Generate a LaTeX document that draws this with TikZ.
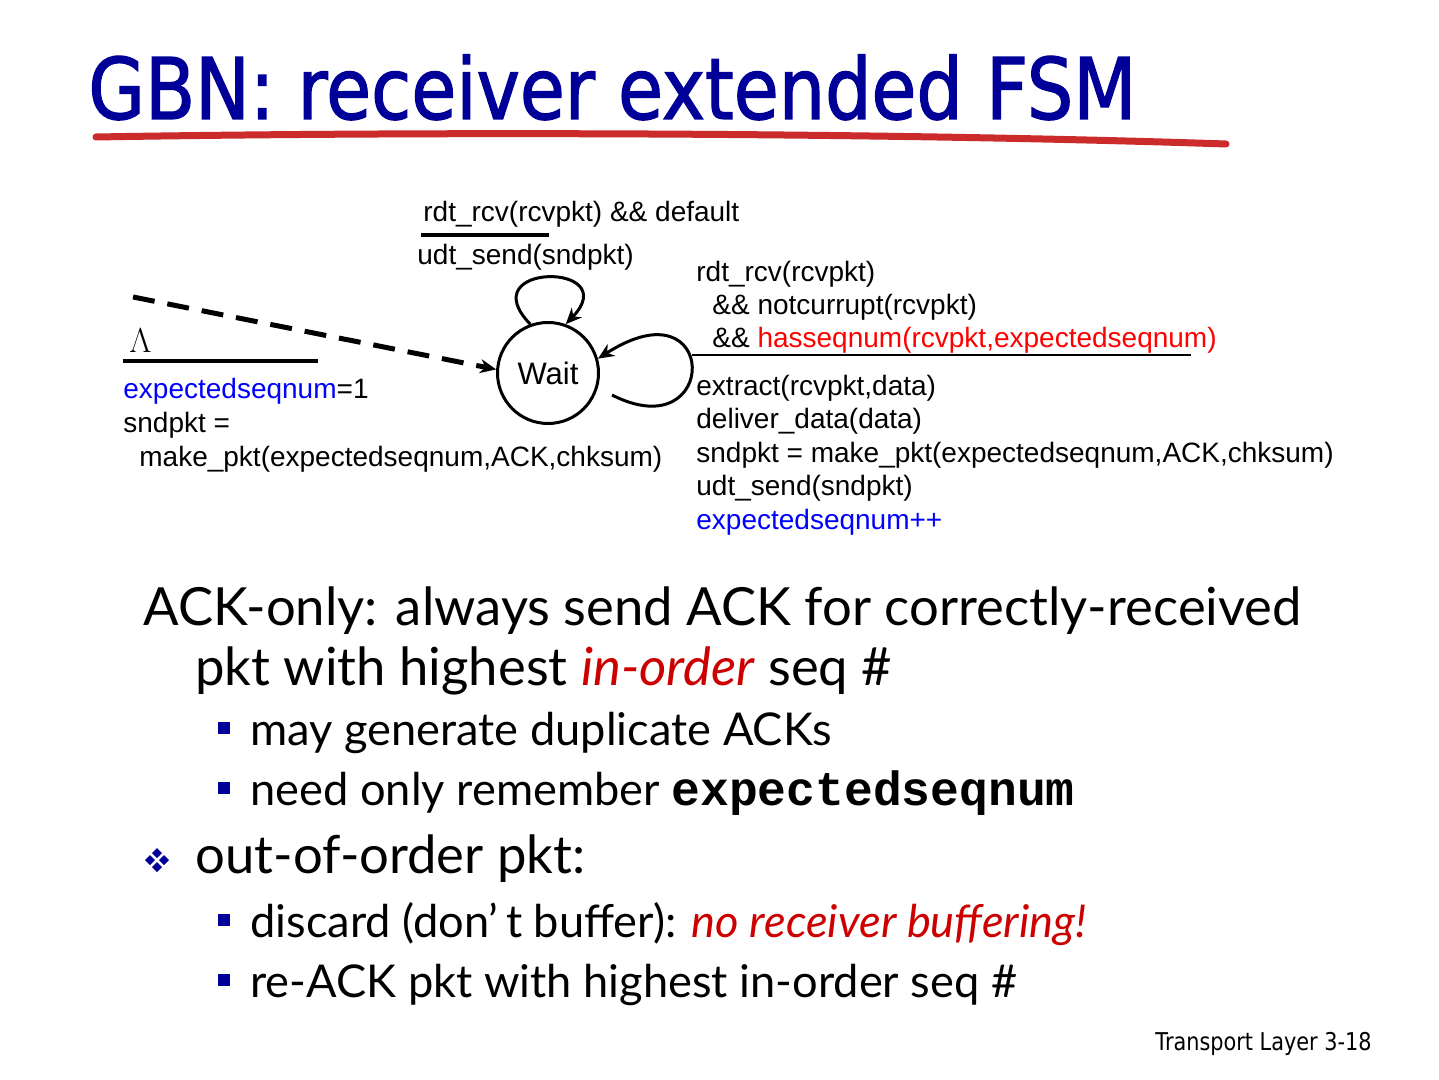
\documentclass[tikz,border=0pt]{standalone}
\usepackage{fontspec}
\setmainfont{Lato}
\newfontfamily\diagfont{Liberation Sans}
\newfontfamily\titlefont[FakeStretch=0.86, FakeBold=1.5]{DejaVu Sans}
\newfontfamily\footfont[FakeStretch=0.85]{DejaVu Sans}
\newfontfamily\codefont{Liberation Mono}
\definecolor{TitleBlue}{HTML}{000099}
\definecolor{BrushRed}{HTML}{CC2B2B}
\definecolor{VarBlue}{HTML}{0000FF}
\definecolor{CondRed}{HTML}{FF0000}
\definecolor{EmphRed}{HTML}{CC0000}
\usetikzlibrary{arrows.meta, positioning}

\begin{document}
\begin{tikzpicture}[x=0.5pt, y=-0.5pt,
    fsm/.style={font=\diagfont\fontsize{14}{16.75}\selectfont, anchor=base west, inner sep=0pt},
    body/.style={font=\fontsize{26.3}{31}\selectfont, anchor=base west, inner sep=0pt},
    subbody/.style={font=\fontsize{22.6}{27}\selectfont, anchor=base west, inner sep=0pt},
    guard/.style={line width=2pt},
    trans/.style={-{Stealth[length=8pt, width=7pt]}, line width=1.5pt},
    bullet/.style={fill=TitleBlue}]
  \fill[white] (0,0) rectangle (1439,1080);
  \useasboundingbox (0,0) rectangle (1439,1080);

  \node[anchor=base west, inner sep=0pt, font=\titlefont\fontsize{42.5}{50}\selectfont, text=TitleBlue] (title) at (88,119) {GBN: receiver extended FSM};
  \draw[BrushRed, line width=3.5pt, line cap=round] (96,137) .. controls (450,131) and (900,133) .. (1226,144);

  \node[draw, circle, line width=1.5pt, minimum size=50.5pt, inner sep=0pt, font=\diagfont\fontsize{15.5}{18}\selectfont] (wait) at (548,373) {Wait};

  \node[fsm] (dflt) at (423,222) {rdt\_rcv(rcvpkt) \&\& default};
  \node[fsm] (dfltact) at (417,265) {udt\_send(sndpkt)};
  \draw[guard] (421,235) -- (549,235);
  \draw[trans] (wait.110) .. controls (470,262) and (625,262) .. (wait.70);

  \coordinate (initstart) at (133,297);
  \draw[trans, line width=2.5pt, dash pattern=on 11pt off 6.5pt] (initstart) -- (wait.176);
  \node[anchor=base west, inner sep=0pt, font=\fontsize{17}{19}\selectfont] (lambda) at (129,353) {$\Lambda$};
  \draw[guard] (123,361) -- (318,361);
  \node[fsm] (init1) at (123,398) {\textcolor{VarBlue}{expectedseqnum}=1};
  \node[fsm] (init2) at (123,432) {sndpkt =};
  \node[fsm] (init3) at (139,466) {make\_pkt(expectedseqnum,ACK,chksum)};

  \coordinate (loopstart) at (612,395);
  \draw[trans] (loopstart) .. controls (720,450) and (720,280) .. (wait.16);
  \node[fsm] (cond1) at (696,282) {rdt\_rcv(rcvpkt)};
  \node[fsm] (cond2) at (712,315) {\&\& notcurrupt(rcvpkt)};
  \node[fsm] (cond3) at (712,348) {\&\& \textcolor{CondRed}{hasseqnum(rcvpkt,expectedseqnum)}};
  \draw[line width=1.2pt] (692,355) -- (1191,355);
  \foreach \txt [count=\k] in {{extract(rcvpkt,data)}, {deliver\_data(data)}, {sndpkt = make\_pkt(expectedseqnum,ACK,chksum)}, {udt\_send(sndpkt)}, {\textcolor{VarBlue}{expectedseqnum++}}}
    \node[fsm] (act\k) at (696,361.5+33.5*\k) {\txt};

  \node[body] (ackonly) at (143,625) {ACK-only: always send ACK for correctly-received};
  \node[body] (ackonly2) at (195,685) {pkt with highest \textcolor{EmphRed}{\itshape in-order} seq \#};
  \node[subbody] (dup) at (250,745) {may generate duplicate ACKs};
  \node[subbody] (remember) at (250,805) {need only remember {\codefont\bfseries\fontsize{24}{29}\selectfont expectedseqnum}};
  \node[body] (ooo) at (195,873) {out-of-order pkt:};
  \node[subbody] (discard) at (250,937) {discard (don’\,t buffer): \textcolor{EmphRed}{\itshape no receiver buffering!}};
  \node[subbody] (reack) at (250,997) {re-ACK pkt with highest in-order seq \#};
  \foreach \y in {745,805,937,997}
    \fill[bullet] (218,\y-23) rectangle ++(12,12);
  \foreach \dx/\dy in {0/-7,0/7,-7/0,7/0}
    \fill[bullet] (157+\dx,860+\dy) +(-5,0) -- +(0,-5) -- +(5,0) -- +(0,5) -- cycle;

  \node[anchor=base east, inner sep=0pt, font=\footfont\fontsize{12.25}{14}\selectfont] (footer) at (1372,1050) {Transport Layer 3-18};
\end{tikzpicture}
\end{document}
